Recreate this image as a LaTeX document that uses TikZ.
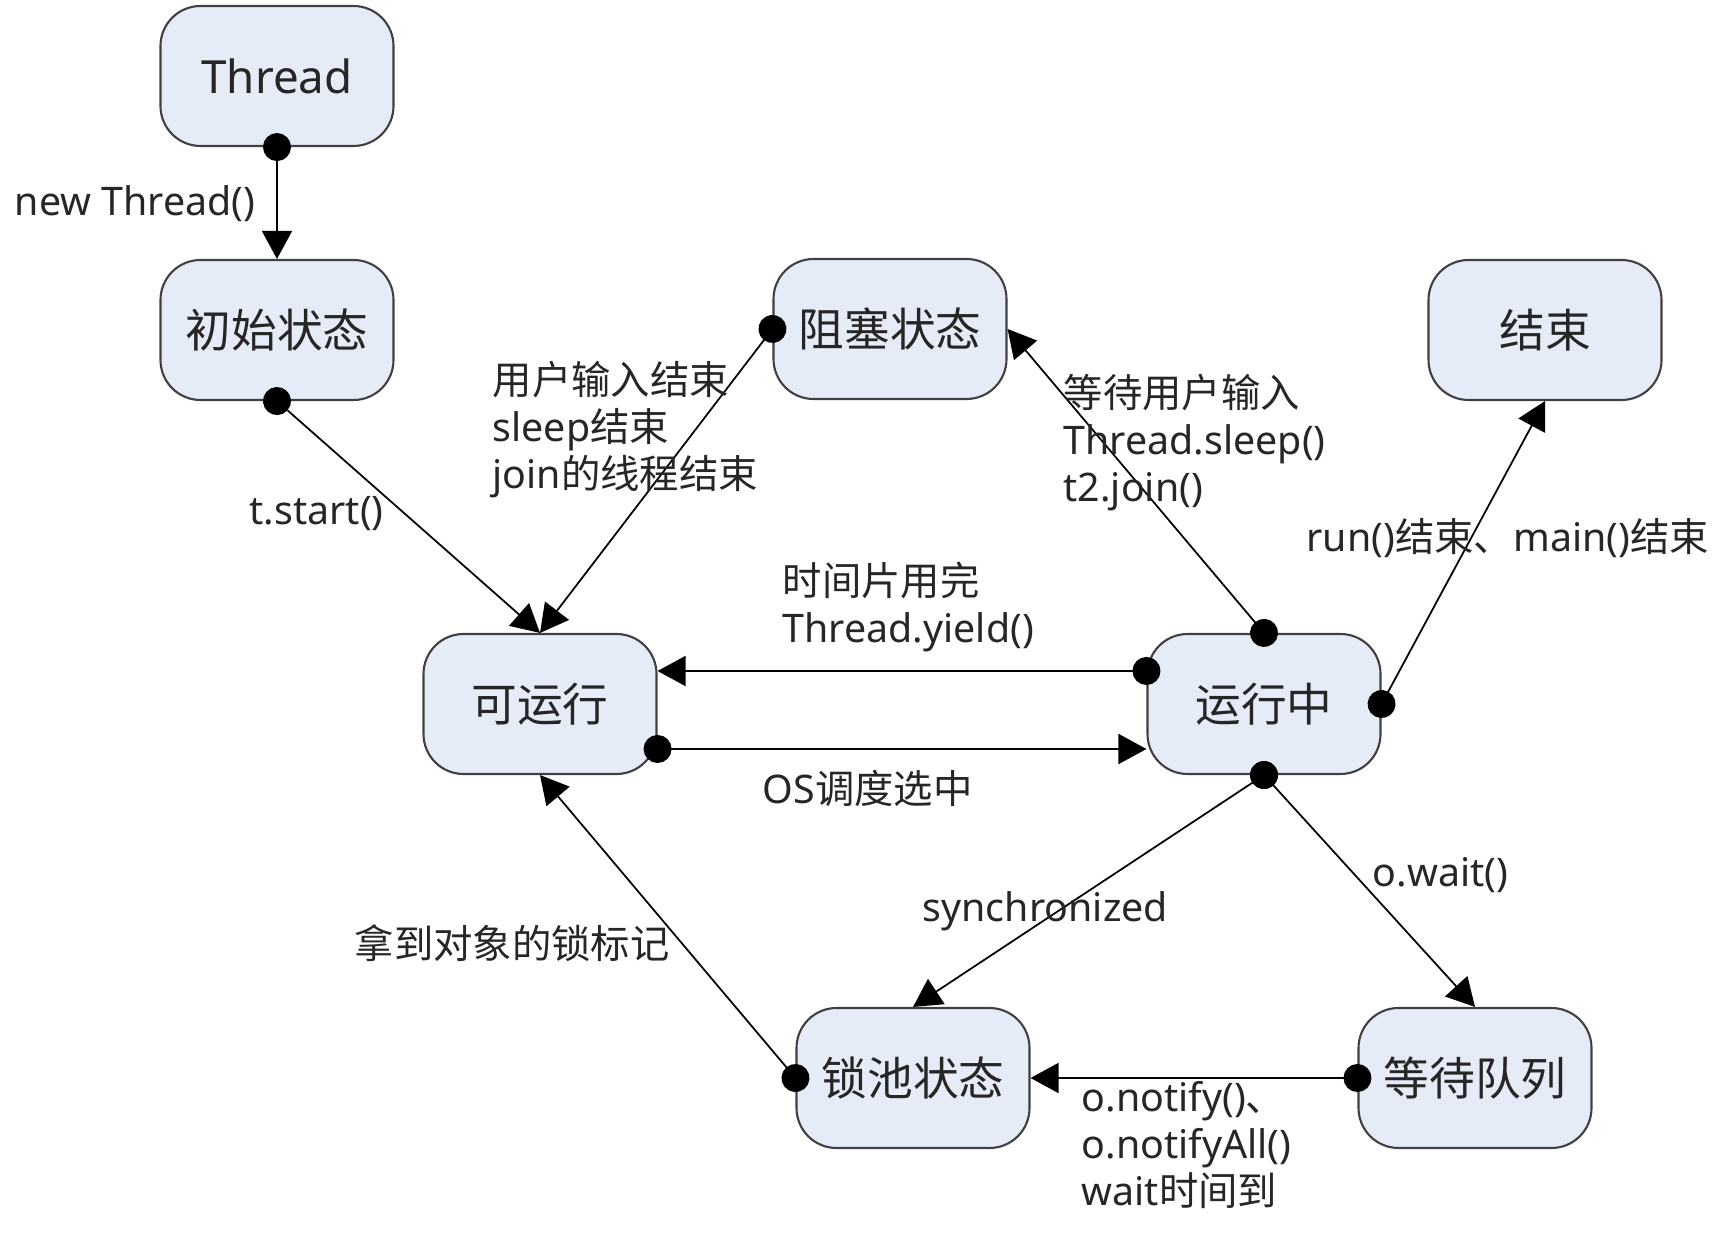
\documentclass[tikz,border=0pt]{standalone}
\usepackage{fontspec}
\setmainfont{Noto Sans}
\newfontfamily\cjk{Noto Sans CJK SC}
\usetikzlibrary{arrows.meta}

\newcommand{\zh}[1]{{\cjk #1}}
\definecolor{statefill}{RGB}{229,235,247}

\tikzset{
  statebox/.style={draw=black!75, line width=0.6pt, fill=statefill, rounded corners=4mm,
    minimum width=23.3mm, minimum height=14mm, text=black!85,
    font=\fontsize{13}{15}\selectfont},
  edgelabel/.style={anchor=west, align=left, inner sep=0pt, text=black!85,
    font=\fontsize{11.2}{13.4}\selectfont},
  trans/.style={{Circle[length=2.8mm]}-{Triangle[length=2.8mm,width=3mm]},
    shorten <=-1.4mm, line width=0.5pt},
}

\begin{document}
\begin{tikzpicture}[x=0.1mm, y=-0.1mm]
  \useasboundingbox (0,0) rectangle (1725,1247);

  % --- States ---
  \node[statebox] (thread)   at (277,76)    {Thread};
  \node[statebox] (init)     at (277,330)   {\zh{初始状态}};
  \node[statebox] (blocked)  at (890,329)   {\zh{阻塞状态}};
  \node[statebox] (finished) at (1545,330)  {\zh{结束}};
  \node[statebox] (runnable) at (540,704)   {\zh{可运行}};
  \node[statebox] (running)  at (1264,704)  {\zh{运行中}};
  \node[statebox] (lockpool) at (913,1078)  {\zh{锁池状态}};
  \node[statebox] (waitq)    at (1475,1078) {\zh{等待队列}};

  % --- Transitions ---
  \draw[trans] (thread.south) -- (init.north);
  \draw[trans] (init.south) -- (runnable.north);
  \draw[trans] (blocked.west) -- (runnable.north);
  \draw[trans] (running.north) -- (blocked.east);
  \draw[trans] (running.east) -- (finished.south);
  \draw[trans] ([yshift=3.3mm]running.west) -- ([yshift=3.3mm]runnable.east);
  \draw[trans] ([yshift=-4.5mm]runnable.east) -- ([yshift=-4.5mm]running.west);
  \draw[trans] (running.south) -- (lockpool.north);
  \draw[trans] (running.south) -- (waitq.north);
  \draw[trans] (waitq.west) -- (lockpool.east);
  \draw[trans] (lockpool.west) -- (runnable.south);

  % --- Labels ---
  \node[edgelabel] (lnew)    at (14,204)   {new Thread()};
  \node[edgelabel] (lstart)  at (249,514)  {t.start()};
  \node[edgelabel] (lwake)   at (492,430)  {\zh{用户输入结束}\\sleep\zh{结束}\\join\zh{的线程结束}};
  \node[edgelabel] (lsleep)  at (1063,443) {\zh{等待用户输入}\\Thread.sleep()\\t2.join()};
  \node[edgelabel] (lend)    at (1306,538) {run()\zh{结束、}main()\zh{结束}};
  \node[edgelabel] (lyield)  at (782,607)  {\zh{时间片用完}\\Thread.yield()};
  \node[edgelabel] (lsched)  at (762,788)  {OS\zh{调度选中}};
  \node[edgelabel] (lsync)   at (922,911)  {synchronized};
  \node[edgelabel] (lwait)   at (1372,875) {o.wait()};
  \node[edgelabel] (lnotify) at (1081,1145) {o.notify()\zh{、}\\o.notifyAll()\\wait\zh{时间到}};
  \node[edgelabel] (llock)   at (354,943)  {\zh{拿到对象的锁标记}};

\end{tikzpicture}
\end{document}
